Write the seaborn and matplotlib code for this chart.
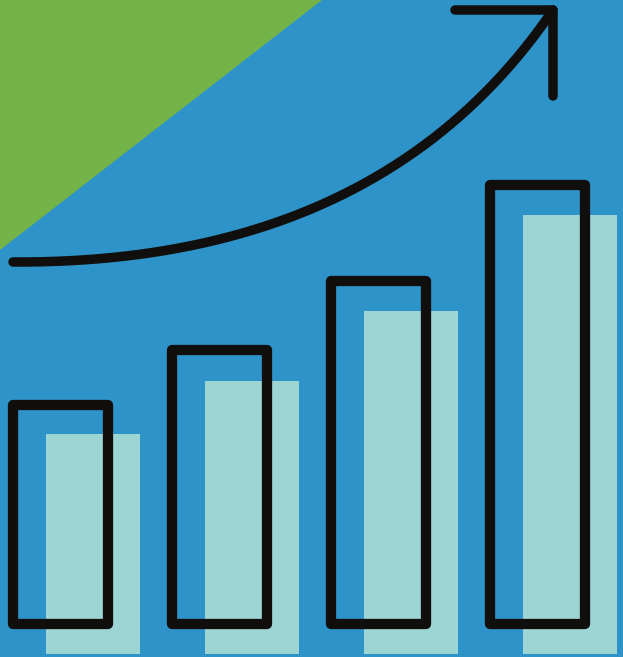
import numpy as np
import pandas as pd
import matplotlib
matplotlib.use("Agg")
import matplotlib.pyplot as plt
from matplotlib.patches import Polygon
import seaborn as sns

# bar chart values (pixel heights)
categories = ["A", "B", "C", "D"]
bar_values = [220, 273, 343, 439]
outline_values = [219, 274, 343, 439]

BLUE = "#2E93C9"
GREEN = "#74B348"
TEAL = "#9DD5D4"
INK = "#100F0D"

W, H, DPI = 623, 657, 100
SPACING = 159.0      # px between bar centres
X0 = 93.0            # px centre of first bar
BASE = 654.0         # px baseline of light bars


def to_data(px, py):
    return (px - X0) / SPACING, BASE - py


sns.set_style("white")
fig = plt.figure(figsize=(W / DPI, H / DPI), dpi=DPI, facecolor=BLUE)
ax = fig.add_axes([0, 0, 1, 1])
ax.set_facecolor(BLUE)

df = pd.DataFrame({"cat": categories, "val": bar_values})
sns.barplot(data=df, x="cat", y="val", color=TEAL, saturation=1,
            width=94 / SPACING, linewidth=0, ax=ax, zorder=2)

ax.set_xlim(-X0 / SPACING, (W - X0) / SPACING)
ax.set_ylim(BASE - H, BASE)

# green corner
ax.add_patch(Polygon([(0, 1), (322 / W, 1), (0, 1 - 250 / H)],
                     closed=True, transform=ax.transAxes,
                     facecolor=GREEN, edgecolor="none", zorder=1))

lw_box = 10.3 * 72 / DPI
lw_arrow = 9.5 * 72 / DPI

# outlined bars, shifted up-left
xs = np.arange(len(categories)) - 32.5 / SPACING
ax.bar(xs, outline_values, width=95 / SPACING, bottom=BASE - 624,
       fill=False, edgecolor=INK, linewidth=lw_box, joinstyle="round", zorder=3)

# rising arrow (quadratic curve)
t = np.linspace(0, 1, 200)
p0, c, p2 = np.array([13, 262]), np.array([380, 264]), np.array([553, 10])
curve = ((1 - t) ** 2)[:, None] * p0 + (2 * t * (1 - t))[:, None] * c + (t ** 2)[:, None] * p2
cx, cy = to_data(curve[:, 0], curve[:, 1])
ax.plot(cx, cy, color=INK, lw=lw_arrow, solid_capstyle="round", zorder=4)

hx, hy = to_data(np.array([455, 553, 553]), np.array([10, 10, 96]))
ax.plot(hx, hy, color=INK, lw=lw_arrow, solid_capstyle="round",
        solid_joinstyle="round", zorder=4)

ax.axis("off")
fig.savefig("out.png", dpi=DPI, facecolor=BLUE)
